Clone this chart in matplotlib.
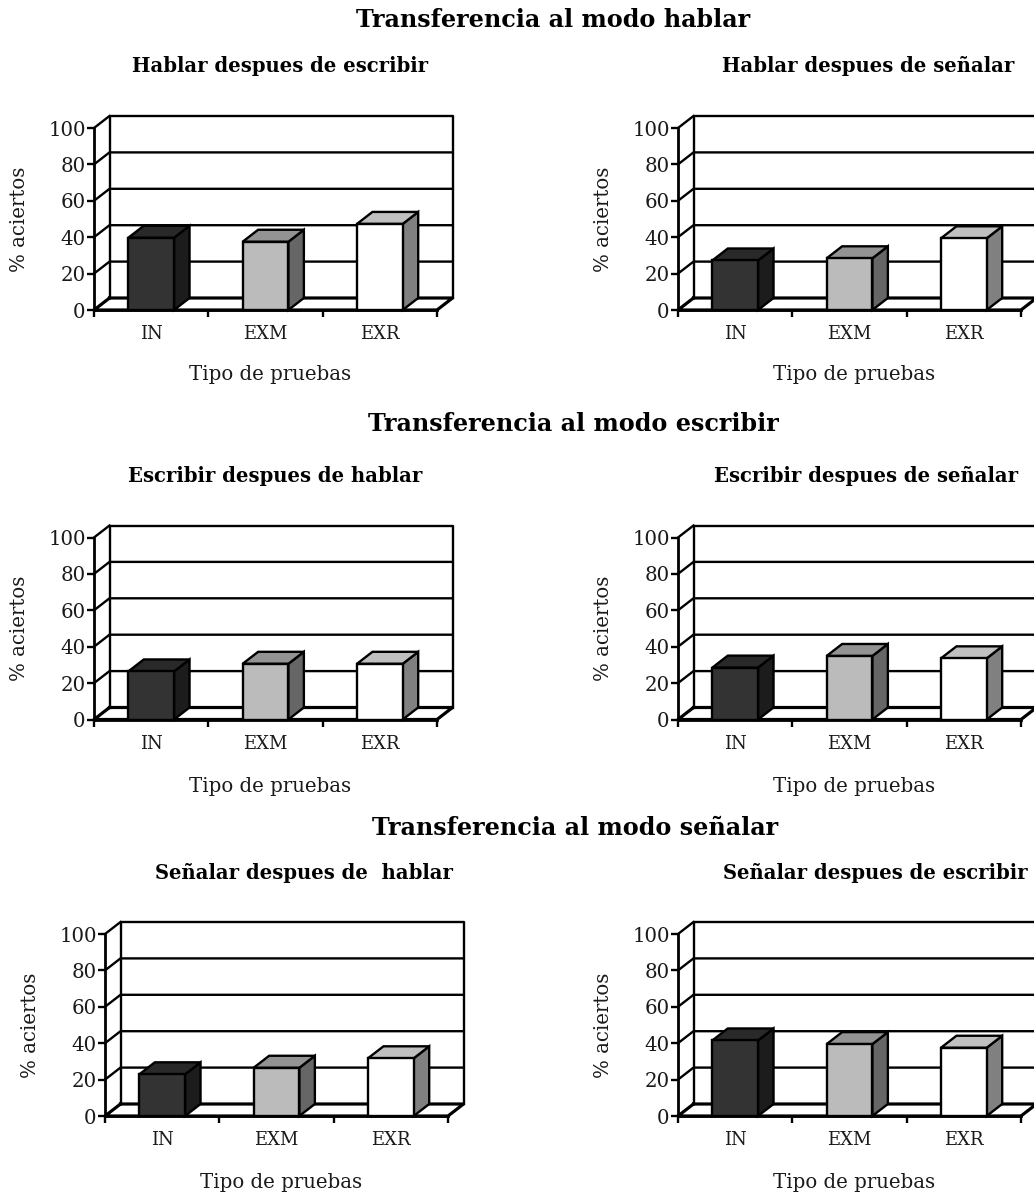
import matplotlib
matplotlib.use('Agg')
import matplotlib.pyplot as plt
from matplotlib.patches import Polygon

W, H = 1034, 1195

categories = ['IN', 'EXM', 'EXR']
y_ticks = [0, 20, 40, 60, 80, 100]

section_titles = ['Transferencia al modo hablar',
                  'Transferencia al modo escribir',
                  'Transferencia al modo señalar']
panel_titles = ['Hablar despues de escribir', 'Hablar despues de señalar',
                'Escribir despues de hablar', 'Escribir despues de señalar',
                'Señalar despues de  hablar', 'Señalar despues de escribir']

hablar_escribir = [39.7, 37.5, 47.3]
hablar_senalar = [27.2, 28.4, 39.4]
escribir_hablar = [26.4, 30.6, 30.6]
escribir_senalar = [28.5, 34.9, 33.6]
senalar_hablar = [22.9, 26.5, 31.7]
senalar_escribir = [41.5, 39.5, 37.5]

# front, side, top shade of each bar
front_colors = ['#333333', '#bbbbbb', '#ffffff']
side_colors = ['#1c1c1c', '#666666', '#808080']
top_colors = ['#292929', '#939393', '#c0c0c0']

plt.rcParams['font.family'] = ['DejaVu Serif']
LW = 1.7
TEXT = 14.2


def px_x(x):
    return x / W


def px_y(y):
    return 1 - y / H


def draw_panel(fig, values, title, left, base, title_pos, label_pos):
    """Fake 3D column chart, left/base are the front corner in pixels """
    ax = fig.add_axes([px_x(left), px_y(base), 343 / W, 182 / H])
    ax.set_xlim(0, 3)
    ax.set_ylim(0, 100)
    dx = 15.5 / 343 * 3   # depth in x units
    dy = 12 / 182 * 100   # depth in y units

    for side in ['top', 'right']:
        ax.spines[side].set_visible(False)
    for side in ['left', 'bottom']:
        ax.spines[side].set_linewidth(LW + 0.3)
    ax.patch.set_visible(False)

    # back wall and the floor
    ax.plot([dx, dx, 3 + dx, 3 + dx], [dy, 100 + dy, 100 + dy, dy],
            color='black', lw=LW, clip_on=False, zorder=1)
    ax.plot([dx, 3 + dx, 3, 0, dx], [dy, dy, 0, 0, dy],
            color='black', lw=LW + 0.6, clip_on=False, zorder=1)
    for t in y_ticks[1:-1]:
        ax.plot([0, dx, 3 + dx], [t, t + dy, t + dy],
                color='black', lw=LW, clip_on=False, zorder=1)
    ax.plot([0, dx], [100, 100 + dy], color='black', lw=LW, clip_on=False, zorder=1)

    for i, v in enumerate(values):
        x0 = i + 0.3
        x1 = i + 0.7
        ax.add_patch(Polygon([(x1, 0), (x1 + dx, dy), (x1 + dx, v + dy), (x1, v)],
                             fc=side_colors[i], ec='black', lw=LW, clip_on=False, zorder=3))
        ax.add_patch(Polygon([(x0, v), (x1, v), (x1 + dx, v + dy), (x0 + dx, v + dy)],
                             fc=top_colors[i], ec='black', lw=LW, clip_on=False, zorder=3))
        ax.bar(x0, v, 0.4, align='edge', color=front_colors[i], edgecolor='black',
               linewidth=LW, clip_on=False, zorder=4)

    ax.set_yticks(y_ticks)
    ax.tick_params(axis='y', length=5, width=LW, labelsize=TEXT, pad=1, labelcolor='#1a1a1a')
    ax.set_xticks([0, 1, 2, 3])
    ax.set_xticklabels([])
    ax.set_xticks([0.5, 1.5, 2.5], minor=True)
    ax.set_xticklabels(categories, minor=True, fontsize=TEXT - 1.2, color='#1a1a1a')
    ax.tick_params(axis='x', which='major', length=5, width=LW)
    ax.tick_params(axis='x', which='minor', length=0, pad=11)

    ax.set_ylabel('% aciertos', fontsize=TEXT, labelpad=14, color='#1a1a1a')
    fig.text(px_x(title_pos[0]), px_y(title_pos[1]), title, fontsize=14.1,
             fontweight='bold', ha='center', va='center')
    fig.text(px_x(label_pos[0]), px_y(label_pos[1]), 'Tipo de pruebas', fontsize=TEXT,
             ha='center', va='center', color='#1a1a1a')


fig = plt.figure(figsize=(W / 100, H / 100), dpi=100)

draw_panel(fig, hablar_escribir, panel_titles[0], 94, 310, (280, 66), (270, 375))
draw_panel(fig, hablar_senalar, panel_titles[1], 678, 310, (868, 66), (854, 375))
draw_panel(fig, escribir_hablar, panel_titles[2], 94, 719.5, (275, 476), (270, 787))
draw_panel(fig, escribir_senalar, panel_titles[3], 678, 719.5, (866, 476), (854, 787))
draw_panel(fig, senalar_hablar, panel_titles[4], 105, 1116, (304, 873), (281, 1182))
draw_panel(fig, senalar_escribir, panel_titles[5], 678, 1116, (875, 873), (854, 1182))

for title, cx, cy in zip(section_titles, [553, 573, 575], [20, 424, 828]):
    fig.text(px_x(cx), px_y(cy), title, fontsize=17.2, fontweight='bold',
             ha='center', va='center')

fig.savefig('out.png', dpi=100)
